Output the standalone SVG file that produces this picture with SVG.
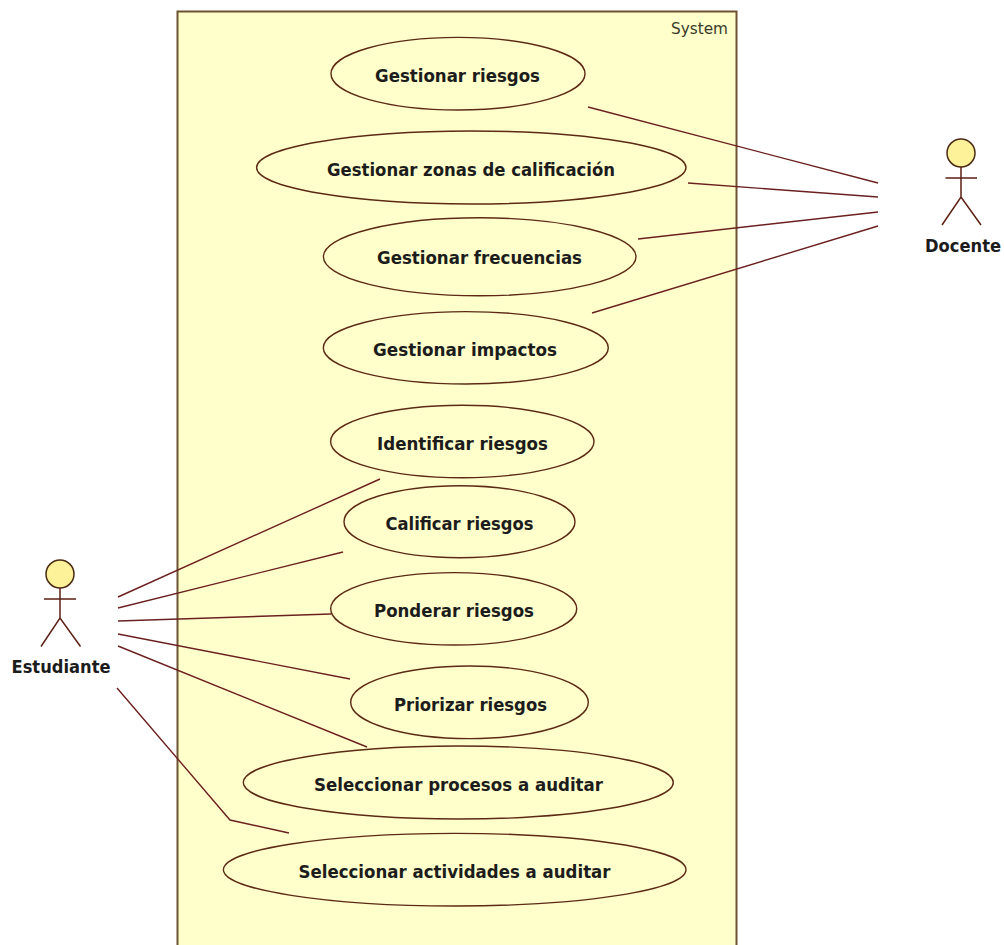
<svg xmlns="http://www.w3.org/2000/svg" width="1004" height="945" viewBox="0 0 1004 945">
<style>
.uc{fill:#ffffcb;stroke:#5c2a14;stroke-width:1.4}
.l{fill:#1c1c1c;font:bold 17px "DejaVu Sans",sans-serif}
.c{fill:none;stroke:#6b2020;stroke-width:1.4}
.a{fill:none;stroke:#5c1f14;stroke-width:1.5}
.h{fill:#fdf199;stroke:#4a2a14;stroke-width:1.5}
</style>
<rect width="1004" height="945" fill="#ffffff"/>
<g id="system">
<rect x="177.500" y="11.500" width="559" height="940" fill="#ffffcb" stroke="#6e5232" stroke-width="2"/>
<text x="671" y="34" font-family="DejaVu Sans,sans-serif" font-size="15" fill="#3a3a2a" textLength="57" lengthAdjust="spacingAndGlyphs">System</text>
</g>
<g id="connectors">
<path class="c" d="M588 107L878 183"/>
<path class="c" d="M688 183L878 197"/>
<path class="c" d="M638 239L878 212"/>
<path class="c" d="M592 313L878 226"/>
<path class="c" d="M118 597L380 479"/>
<path class="c" d="M118 608L343 552"/>
<path class="c" d="M118 621L331 614"/>
<path class="c" d="M118 634L350 679"/>
<path class="c" d="M118 646L367 747"/>
<path class="c" d="M117 688L230 820L289 833"/>
</g>
<g id="uc1"><ellipse class="uc" cx="458" cy="73.700" rx="127" ry="36.300"/><text class="l" x="375" y="82.300" textLength="165" lengthAdjust="spacingAndGlyphs">Gestionar riesgos</text></g>
<g id="uc2"><ellipse class="uc" cx="471.300" cy="167.500" rx="214.700" ry="36.500"/><text class="l" x="327" y="175.700" textLength="288" lengthAdjust="spacingAndGlyphs">Gestionar zonas de calificación</text></g>
<g id="uc3"><ellipse class="uc" cx="479.700" cy="256.800" rx="156.300" ry="39"/><text class="l" x="377" y="264.300" textLength="205" lengthAdjust="spacingAndGlyphs">Gestionar frecuencias</text></g>
<g id="uc4"><ellipse class="uc" cx="465.800" cy="347.800" rx="142.500" ry="36.200"/><text class="l" x="373" y="356" textLength="184" lengthAdjust="spacingAndGlyphs">Gestionar impactos</text></g>
<g id="uc5"><ellipse class="uc" cx="462.300" cy="441.500" rx="131.700" ry="36.200"/><text class="l" x="377" y="450" textLength="171" lengthAdjust="spacingAndGlyphs">Identificar riesgos</text></g>
<g id="uc6"><ellipse class="uc" cx="459.500" cy="521.700" rx="115.500" ry="36"/><text class="l" x="385.500" y="530" textLength="148" lengthAdjust="spacingAndGlyphs">Calificar riesgos</text></g>
<g id="uc7"><ellipse class="uc" cx="453.700" cy="608.800" rx="123" ry="36.200"/><text class="l" x="374" y="616.700" textLength="160" lengthAdjust="spacingAndGlyphs">Ponderar riesgos</text></g>
<g id="uc8"><ellipse class="uc" cx="469.500" cy="702.300" rx="118.800" ry="36.300"/><text class="l" x="394" y="710.700" textLength="153" lengthAdjust="spacingAndGlyphs">Priorizar riesgos</text></g>
<g id="uc9"><ellipse class="uc" cx="458.300" cy="782.500" rx="215" ry="36.500"/><text class="l" x="314" y="791" textLength="289" lengthAdjust="spacingAndGlyphs">Seleccionar procesos a auditar</text></g>
<g id="uc10"><ellipse class="uc" cx="454.700" cy="869.700" rx="231.300" ry="36.300"/><text class="l" x="298.500" y="878.300" textLength="312" lengthAdjust="spacingAndGlyphs">Seleccionar actividades a auditar</text></g>
<g id="docente">
<circle class="h" cx="961" cy="153" r="14"/>
<path class="a" d="M961 167V197M945.500 178H977M942 225L961 197L981 225"/>
<text class="l" x="925" y="251.700" textLength="76" lengthAdjust="spacingAndGlyphs">Docente</text>
</g>
<g id="estudiante">
<circle class="h" cx="60" cy="574" r="14"/>
<path class="a" d="M60 588V618M44 599H76M41 646.500L60 618L80.500 646.500"/>
<text class="l" x="11.500" y="673.300" textLength="99" lengthAdjust="spacingAndGlyphs">Estudiante</text>
</g>
</svg>
